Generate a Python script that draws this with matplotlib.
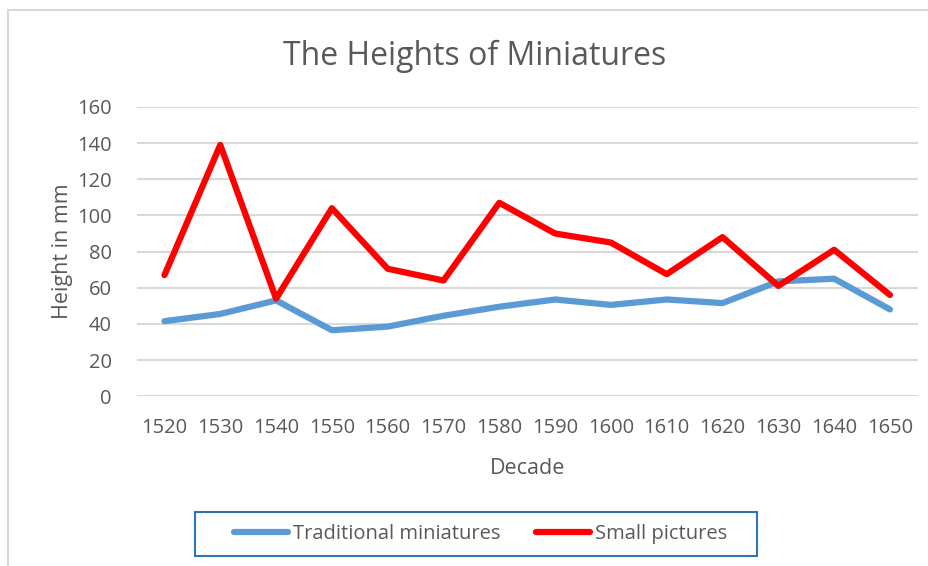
import matplotlib
matplotlib.use('Agg')
import matplotlib.pyplot as plt
from matplotlib.lines import Line2D
from matplotlib.patches import Rectangle

decades = ['1520', '1530', '1540', '1550', '1560', '1570', '1580',
           '1590', '1600', '1610', '1620', '1630', '1640', '1650']
traditional = [41.5, 45.5, 53, 36.5, 38.5, 44.5, 49.5, 53.5, 50.5, 53.5, 51.5, 63.5, 65, 48]
small = [67, 139, 54, 104, 70.5, 64, 107, 90, 85, 67.5, 88, 61, 81, 56]

plt.rcParams['font.family'] = ['Open Sans', 'DejaVu Sans']
grey = '#595959'
W, H = 929, 566

fig = plt.figure(figsize=(9.29, 5.66), dpi=100)
ax = fig.add_axes([0.147, 0.300, 0.841, 0.511])

x = range(len(decades))
ax.plot(x, traditional, color='#5B9BD5', lw=4.5, solid_capstyle='round',
        solid_joinstyle='round', label='Traditional miniatures')
ax.plot(x, small, color='#FF0000', lw=4.5, solid_capstyle='round',
        solid_joinstyle='round', label='Small pictures')

ax.set_xlim(-0.5, len(decades) - 0.5)
ax.set_ylim(0, 160)
ax.set_yticks(range(0, 161, 20))
ax.set_xticks(list(x))
ax.set_xticklabels(decades)
ax.grid(axis='y', color='#D9D9D9', lw=1.5)
ax.set_axisbelow(True)
for s in ax.spines.values():
    s.set_visible(False)
ax.tick_params(length=0, labelsize=14.5, colors=grey)
ax.tick_params(axis='x', pad=16)
ax.tick_params(axis='y', pad=18)

ax.set_xlabel('Decade', fontsize=15.5, color=grey, labelpad=14)
ax.set_ylabel('Height in mm', fontsize=15.5, color=grey, labelpad=3)
fig.text(0.511, 0.9, 'The Heights of Miniatures', fontsize=23, color=grey,
         ha='center', va='center')

# legend (frame drawn separately)
leg = fig.legend(loc='center', bbox_to_anchor=(480.5 / W, 1 - 534 / H), ncol=2,
                 fontsize=14.5, frameon=False, handlelength=2.7,
                 handletextpad=0.25, columnspacing=1.75, labelcolor=grey)
fig.add_artist(Rectangle((195 / W, 1 - 556 / H), 562 / W, 44 / H,
                         transform=fig.transFigure, fill=False,
                         edgecolor='#2E75B6', lw=1.5))

# outer chart border (partly visible)
fig.add_artist(Line2D([8 / W, 1], [1 - 10 / H] * 2, color='#D9D9D9', lw=1.5))
fig.add_artist(Line2D([8 / W] * 2, [0, 1 - 10 / H], color='#D9D9D9', lw=1.5))

fig.savefig('out.png', dpi=100)
